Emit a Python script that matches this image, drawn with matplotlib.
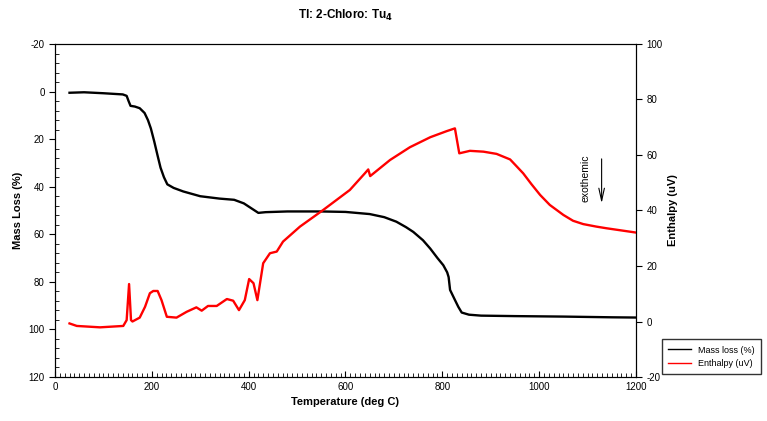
import matplotlib
matplotlib.use("Agg")
import matplotlib.pyplot as plt
from matplotlib.ticker import MultipleLocator

plt.rcParams['font.family'] = ['Liberation Sans', 'DejaVu Sans']
plt.rcParams['axes.unicode_minus'] = False

# mass loss (%) vs temperature, left axis (inverted)
mass_temp = [30, 60, 100, 140, 148, 152, 156, 165, 175, 185, 192, 198, 205, 212, 218,
             225, 232, 245, 265, 300, 340, 370, 390, 405, 420, 435, 480, 550, 600, 650,
             680, 705, 725, 740, 760, 775, 790, 802, 810, 813, 816, 826, 833, 840, 855,
             880, 950, 1050, 1150, 1200]
mass_loss = [0.5, 0.3, 0.7, 1.2, 1.8, 4, 6, 6.3, 7, 9, 12, 15.5, 21, 27, 32,
             36, 39, 40.5, 42, 44, 45, 45.5, 47, 49, 51, 50.7, 50.4, 50.4, 50.6, 51.5,
             52.8, 54.7, 57, 59, 62.5, 66, 70, 73, 76, 78, 83.4, 87.6, 90.5, 92.9, 93.8,
             94.2, 94.4, 94.6, 94.9, 95]

# enthalpy (uV) vs temperature, right axis
enth_temp = [30, 45, 93, 141, 148, 153, 157, 160, 175, 186, 196, 203, 212, 220, 231,
             251, 272, 292, 303, 316, 334, 355, 368, 380, 392, 401, 410, 418, 430, 444,
             458, 471, 506, 554, 609, 640, 647, 651, 692, 733, 775, 809, 826, 835, 857,
             885, 912, 926, 940, 953, 967, 984, 1002, 1022, 1050, 1070, 1091, 1118, 1139, 1198]
enthalpy = [-0.7, -1.6, -2.1, -1.6, 0.5, 13.5, 0.5, 0, 1.4, 5.3, 10.2, 11, 11, 7.7, 1.7,
            1.4, 3.5, 5.1, 3.9, 5.6, 5.6, 8.1, 7.5, 4.1, 7.7, 15.3, 13.8, 7.7, 21, 24.6,
            25.2, 28.8, 34.2, 40.2, 47.4, 53.4, 54.8, 52.4, 58.2, 62.8, 66.4, 68.6, 69.6, 60.6, 61.5,
            61.2, 60.4, 59.4, 58.4, 56, 53.4, 49.5, 45.6, 42, 38.4, 36.3, 35.1, 34.2, 33.6, 32.1]

fig = plt.figure(figsize=(7.67, 4.21), dpi=100)
ax = fig.add_axes([0.0717, 0.1045, 0.7575, 0.791])
ax2 = ax.twinx()

l1, = ax.plot(mass_temp, mass_loss, color="black", lw=1.7, label="Mass loss (%)")
l2, = ax2.plot(enth_temp, enthalpy, color="red", lw=1.7, label="Enthalpy (uV)")

ax.set_xlim(0, 1200)
ax.set_ylim(120, -20)
ax2.set_ylim(-20, 100)

ax.xaxis.set_major_locator(MultipleLocator(200))
ax.xaxis.set_minor_locator(MultipleLocator(10))
ax.yaxis.set_major_locator(MultipleLocator(20))
ax.yaxis.set_minor_locator(MultipleLocator(4))
ax2.yaxis.set_major_locator(MultipleLocator(20))

ax.tick_params(axis='x', which='major', direction='in', length=4, labelsize=7, top=False)
ax.tick_params(axis='x', which='minor', direction='in', length=3, top=False)
ax.tick_params(axis='y', which='major', direction='out', length=4, labelsize=7)
ax.tick_params(axis='y', which='minor', direction='in', length=3)
ax2.tick_params(axis='y', which='major', direction='out', length=4, labelsize=7)

ax.set_xlabel("Temperature (deg C)", fontsize=8, fontweight='bold')
ax.set_ylabel("Mass Loss (%)", fontsize=8, fontweight='bold')
ax2.set_ylabel("Enthalpy (uV)", fontsize=8, fontweight='bold')
fig.text(0.45, 0.955, "Tl: 2-Chloro: Tu$_\\mathbf{4}$", fontsize=8.5, fontweight='bold', ha='center')

ax2.annotate("", xy=(1129, 41.6), xytext=(1129, 59.6),
             arrowprops=dict(arrowstyle="->,head_length=0.9,head_width=0.2", lw=0.8, color="black"))
ax2.text(1095, 51.7, "exothemic", rotation=90, fontsize=7.5, ha='center', va='center')

leg = fig.legend(handles=[l1, l2], loc='lower right', bbox_to_anchor=(0.998, 0.1),
                 fontsize=6.5, frameon=True, fancybox=False, edgecolor='black',
                 handlelength=2.5, borderpad=0.7)
for line in leg.get_lines():
    line.set_linewidth(1.0)

fig.savefig("out.png", dpi=100)
